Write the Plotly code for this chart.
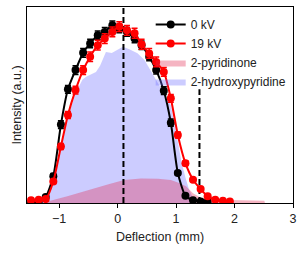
import plotly.graph_objects as go

# Data points (deflection in mm, normalized intensity)
x_pts = [-1.48, -1.35, -1.23, -1.10, -0.97, -0.85, -0.72, -0.59, -0.47, -0.34, -0.22, -0.09,
         0.03, 0.16, 0.29, 0.41, 0.54, 0.66, 0.79, 0.91, 1.03, 1.16, 1.29, 1.42, 1.54, 1.67, 1.80, 1.92]
y_0kv = [0.0, 0.005, 0.03, 0.136, 0.40, 0.58, 0.678, 0.766, 0.814, 0.856, 0.873, 0.907,
         0.89, 0.873, 0.839, 0.805, 0.746, 0.678, 0.573, 0.41, 0.153, 0.037, 0.014, 0.008, 0.006]
e_0kv = [0.005, 0.005, 0.008, 0.015, 0.02, 0.02, 0.022, 0.022, 0.022, 0.022, 0.022, 0.022,
         0.022, 0.022, 0.022, 0.022, 0.02, 0.02, 0.02, 0.018, 0.012, 0.008, 0.005, 0.005, 0.005]
y_19kv = [0.014, 0.017, 0.02, 0.11, 0.288, 0.449, 0.576, 0.678, 0.746, 0.805, 0.839, 0.873,
          0.90, 0.881, 0.866, 0.81, 0.763, 0.72, 0.669, 0.534, 0.347, 0.203, 0.119, 0.071,
          0.034, 0.017, 0.012, 0.008]
e_19kv = [0.004, 0.004, 0.005, 0.01, 0.015, 0.018, 0.02, 0.022, 0.024, 0.025, 0.025, 0.025,
          0.025, 0.025, 0.025, 0.025, 0.025, 0.025, 0.022, 0.02, 0.015, 0.012, 0.008, 0.006,
          0.005, 0.004, 0.004, 0.004]

# Simulated contributions
x_hp = [-1.35, -1.25, -1.10, -0.97, -0.86, -0.72, -0.60, -0.53, -0.45, -0.37, -0.30, -0.20,
        -0.10, 0.0, 0.09, 0.20, 0.34, 0.46, 0.54, 0.66, 0.79, 0.91, 1.03, 1.10, 1.16, 1.22,
        1.30, 1.35]
y_hp = [0.0, 0.02, 0.10, 0.27, 0.43, 0.56, 0.63, 0.645, 0.655, 0.668, 0.70, 0.77,
        0.765, 0.78, 0.797, 0.785, 0.764, 0.73, 0.687, 0.63, 0.56, 0.50, 0.31, 0.20, 0.13,
        0.07, 0.02, 0.0]
x_pn = [-1.25, -1.2, -0.86, -0.51, -0.17, 0.11, 0.40, 0.69, 0.91, 1.03, 1.17, 1.29, 1.43,
        1.71, 2.0, 2.51, 2.52]
y_pn = [0.0, 0.008, 0.034, 0.066, 0.095, 0.117, 0.125, 0.124, 0.117, 0.105, 0.085, 0.05,
        0.025, 0.017, 0.015, 0.012, 0.0]

dash_x = [0.1, 1.4]
dash_top = [1.0, 0.58]

fig = go.Figure()
fig.add_trace(go.Scatter(x=x_hp, y=y_hp, mode="lines", fill="tozeroy",
                         line=dict(width=0, color="rgba(110,110,255,0.35)"),
                         fillcolor="rgba(110,110,255,0.35)", name="2-hydroxypyridine",
                         legendrank=4))
fig.add_trace(go.Scatter(x=x_pn, y=y_pn, mode="lines", fill="tozeroy",
                         line=dict(width=0, color="rgba(225,40,80,0.35)"),
                         fillcolor="rgba(225,40,80,0.35)", name="2-pyridinone",
                         legendrank=3))
for xv, yt in zip(dash_x, dash_top):
    fig.add_trace(go.Scatter(x=[xv, xv], y=[0, yt], mode="lines", showlegend=False,
                             line=dict(color="black", width=2, dash="6px,3px")))
fig.add_trace(go.Scatter(x=x_pts[:len(y_0kv)], y=y_0kv, mode="lines+markers", name="0 kV",
                         line=dict(color="black", width=2, shape="spline", smoothing=0.6),
                         marker=dict(color="black", size=8),
                         error_y=dict(type="data", array=e_0kv, color="black", thickness=1.5, width=3),
                         legendrank=1))
fig.add_trace(go.Scatter(x=x_pts, y=y_19kv, mode="lines+markers", name="19 kV",
                         line=dict(color="#ff0000", width=2, shape="spline", smoothing=0.6),
                         marker=dict(color="#ff0000", size=8),
                         error_y=dict(type="data", array=e_19kv, color="#ff0000", thickness=1.5, width=3),
                         legendrank=2))

fig.update_layout(
    width=306, height=253,
    margin=dict(l=27, r=13, t=7, b=50),
    paper_bgcolor="white", plot_bgcolor="white",
    font=dict(family="Liberation Sans, Arial, sans-serif", size=12.5, color="#222"),
    showlegend=True,
    legend=dict(x=0.465, y=0.985, xanchor="left", yanchor="top", bgcolor="rgba(0,0,0,0)",
                font=dict(size=12), tracegroupgap=0, itemwidth=30,
                borderwidth=0),
    xaxis=dict(range=[-1.55, 3.0], tickvals=[-1, 0, 1, 2, 3], ticks="outside", ticklen=4,
               tickwidth=1, tickcolor="black", showgrid=False, zeroline=False,
               showline=True, linecolor="black", linewidth=1, mirror=True, automargin=False,
               title=dict(text="Deflection (mm)", font=dict(size=12.5), standoff=7)),
    yaxis=dict(range=[0, 1.0], showticklabels=False, ticks="", showgrid=False, zeroline=False,
               showline=True, linecolor="black", linewidth=1, mirror=True, automargin=False,
               title=dict(text="Intensity (a.u.)", font=dict(size=12.5), standoff=1)),
)

fig.write_html("out.html", config={"displayModeBar": False},
               post_script="document.body.style.margin='0';")
